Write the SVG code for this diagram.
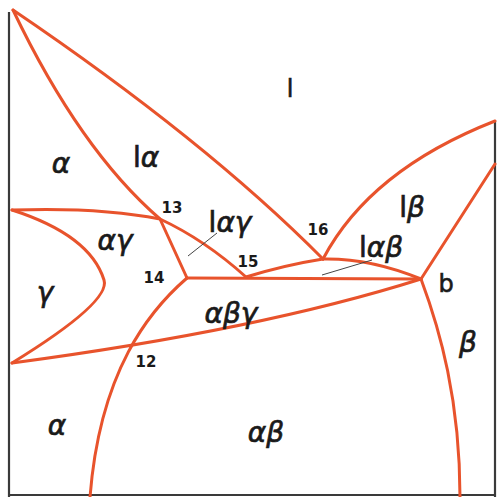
<svg xmlns="http://www.w3.org/2000/svg" width="497" height="497" viewBox="0 0 497 497">
<style>
.b{fill:none;stroke:#e8532c;stroke-width:3;stroke-linecap:round;stroke-linejoin:round}
.f{fill:none;stroke:#3a3a3a;stroke-width:2.2}
.ld{fill:none;stroke:#444;stroke-width:1}
.g{font-family:"DejaVu Sans",sans-serif;font-style:italic;font-size:28px;fill:#1a1a1a;stroke:#1a1a1a;stroke-width:0.7;text-anchor:middle}
.n{font-family:"DejaVu Sans",sans-serif;font-weight:bold;font-size:15px;fill:#1a1a1a;text-anchor:middle}
.u{font-family:"DejaVu Sans",sans-serif;font-size:24px;fill:#1a1a1a;stroke:#1a1a1a;stroke-width:0.6;text-anchor:middle}
</style>
<rect width="497" height="497" fill="#fff"/>
<g id="frame">
<line class="f" x1="9" y1="12" x2="9" y2="497"/>
<line class="f" x1="495" y1="120" x2="495" y2="497"/>
<line class="f" x1="9" y1="495" x2="495" y2="495"/>
</g>
<g id="boundaries">
<path class="b" d="M13,10 Q205,140 323,259"/>
<path class="b" d="M13,10 Q80,150 160,219 Q172,245 187,278"/>
<path class="b" d="M12,210 Q100,207 160,219 Q205,240 246,277"/>
<path class="b" d="M12,210 Q90,235 104,280 Q111,302 12,363"/>
<path class="b" d="M12,363 Q260,330 421,279"/>
<path class="b" d="M187,278 L421,279"/>
<path class="b" d="M187,278 C150,310 100,370 90,497"/>
<path class="b" d="M421,279 C440,330 460,400 460,497"/>
<path class="b" d="M421,279 L495,164"/>
<path class="b" d="M323,259 Q370,170 495,121"/>
<path class="b" d="M323,259 Q370,258 421,279"/>
<path class="b" d="M246,277 Q285,265 323,259"/>
</g>
<g id="leaders">
<line class="ld" x1="188" y1="256" x2="217" y2="233"/>
<line class="ld" x1="322" y1="275" x2="372" y2="260"/>
</g>
<g id="labels">
<text class="u" x="290" y="97" font-size="26">l</text>
<text class="g" x="61" y="173">α</text>
<text class="g" x="146" y="167" font-size="26"><tspan font-style="normal">l</tspan>α</text>
<text class="n" x="172" y="213">13</text>
<text class="g" x="230" y="232" font-size="26"><tspan font-style="normal">l</tspan>αγ</text>
<text class="g" x="115" y="250" font-size="26">αγ</text>
<text class="n" x="154" y="283">14</text>
<text class="n" x="248" y="267">15</text>
<text class="n" x="318" y="235">16</text>
<text class="g" x="412" y="217" font-size="26"><tspan font-style="normal">l</tspan>β</text>
<text class="g" x="381" y="257" font-size="24"><tspan font-style="normal">l</tspan>αβ</text>
<text class="u" x="446" y="292">b</text>
<text class="g" x="45" y="302" font-size="30">γ</text>
<text class="g" x="231" y="323">αβγ</text>
<text class="n" x="146" y="367">12</text>
<text class="g" x="57" y="435">α</text>
<text class="g" x="266" y="442">αβ</text>
<text class="g" x="468" y="352">β</text>
</g>
</svg>
